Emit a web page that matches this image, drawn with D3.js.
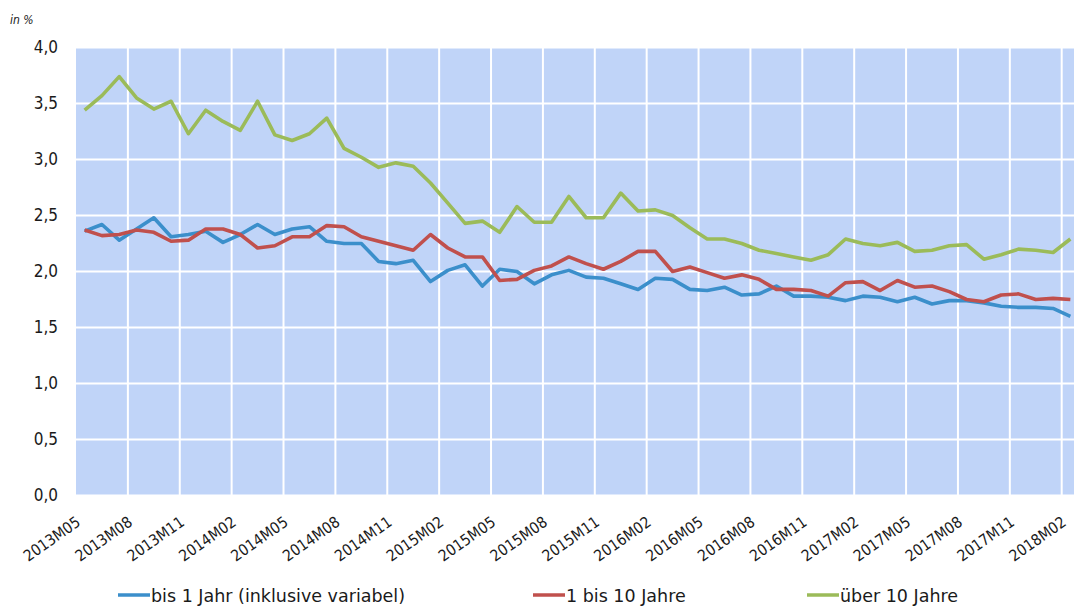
<!DOCTYPE html>
<html><head><meta charset="utf-8">
<script src="https://cdn.jsdelivr.net/npm/d3@7"></script>
<style>
html,body{margin:0;padding:0;background:#fff;overflow:hidden;}
svg{display:block;font-family:"DejaVu Sans",sans-serif;}
</style></head>
<body>
<svg id="c" width="1074" height="606"></svg>
<script>
// categories: monthly 2013M05 .. 2018M02
const startYear = 2013, startMonth = 5, nMonths = 58;
const categories = [];
for (let i = 0; i < nMonths; i++) {
  const m = startMonth - 1 + i;
  const y = startYear + Math.floor(m / 12);
  const mm = (m % 12) + 1;
  categories.push(y + "M" + String(mm).padStart(2, "0"));
}
const seriesNames = ["bis 1 Jahr (inklusive variabel)", "1 bis 10 Jahre", "über 10 Jahre"];
const bis1 = [2.36,2.42,2.28,2.38,2.48,2.31,2.33,2.36,2.26,2.33,
  2.42,2.33,2.38,2.40,2.27,2.25,2.25,2.09,2.07,2.10,
  1.91,2.01,2.06,1.87,2.02,2.00,1.89,1.97,2.01,1.95,
  1.94,1.89,1.84,1.94,1.93,1.84,1.83,1.86,1.79,1.80,
  1.87,1.78,1.78,1.77,1.74,1.78,1.77,1.73,1.77,1.71,
  1.74,1.74,1.72,1.69,1.68,1.68,1.67,1.60];
const bis10 = [2.37,2.32,2.33,2.37,2.35,2.27,2.28,2.38,2.38,2.33,
  2.21,2.23,2.31,2.31,2.41,2.40,2.31,2.27,2.23,2.19,
  2.33,2.21,2.13,2.13,1.92,1.93,2.01,2.05,2.13,2.07,
  2.02,2.09,2.18,2.18,2.00,2.04,1.99,1.94,1.97,1.93,
  1.84,1.84,1.83,1.78,1.90,1.91,1.83,1.92,1.86,1.87,
  1.82,1.75,1.73,1.79,1.80,1.75,1.76,1.75];
const ueber10 = [3.44,3.57,3.74,3.55,3.45,3.52,3.23,3.44,3.34,3.26,
  3.52,3.22,3.17,3.23,3.37,3.10,3.02,2.93,2.97,2.94,
  2.79,2.61,2.43,2.45,2.35,2.58,2.44,2.44,2.67,2.48,
  2.48,2.70,2.54,2.55,2.50,2.39,2.29,2.29,2.25,2.19,
  2.16,2.13,2.10,2.15,2.29,2.25,2.23,2.26,2.18,2.19,
  2.23,2.24,2.11,2.15,2.20,2.19,2.17,2.29];
const yTicks = [0,0.5,1,1.5,2,2.5,3,3.5,4];
const xTickLabels = categories.filter((d,i) => i % 3 === 0);
const unitLabel = "in %";
const colors = ["#3b8fcb", "#c0504d", "#9bbb59"];

const svg = d3.select("#c");
const plot = {left: 76, right: 1079, top: 47.5, bottom: 495.5};

const x = d3.scaleBand().domain(categories).range([plot.left, plot.right]).padding(0);
const y = d3.scaleLinear().domain([0, 4]).range([plot.bottom, plot.top]);

svg.append("rect").attr("x", plot.left).attr("y", plot.top)
  .attr("width", plot.right - plot.left).attr("height", plot.bottom - plot.top)
  .attr("fill", "#c0d4f8");

// horizontal gridlines
svg.append("g").selectAll("line").data(yTicks).join("line")
  .attr("x1", plot.left).attr("x2", plot.right)
  .attr("y1", d => y(d)).attr("y2", d => y(d))
  .attr("stroke", "#fff").attr("stroke-width", 2);
// vertical gridlines at every 3rd category boundary
svg.append("g").selectAll("line").data(categories.filter((d,i) => i % 3 === 0 && i > 0)).join("line")
  .attr("x1", d => x(d)).attr("x2", d => x(d))
  .attr("y1", plot.top).attr("y2", plot.bottom)
  .attr("stroke", "#fff").attr("stroke-width", 2);

// y axis labels
const yAxis = d3.axisLeft(y).tickValues(yTicks).tickSize(0).tickPadding(0)
  .tickFormat(d => d3.format(".1f")(d).replace(".", ","));
const yg = svg.append("g").attr("transform", `translate(${plot.left - 18},0)`).call(yAxis);
yg.select(".domain").remove();
yg.selectAll("text").attr("font-size", 17).attr("fill", "#1a1a1a")
  .attr("font-family", "DejaVu Sans Condensed, DejaVu Sans, sans-serif");

svg.append("text").attr("x", 10).attr("y", 24).attr("font-size", 12)
  .attr("font-style", "italic").attr("fill", "#1a1a1a")
  .attr("font-family", "DejaVu Sans Condensed, DejaVu Sans, sans-serif").text(unitLabel);

// x axis labels
const xAxis = d3.axisBottom(x).tickValues(xTickLabels).tickSize(0).tickPadding(0);
const xg = svg.append("g").attr("transform", `translate(0,${plot.bottom})`).call(xAxis);
xg.select(".domain").remove();
xg.selectAll("text")
  .attr("font-size", 15.5).attr("fill", "#1a1a1a")
  .attr("font-family", "DejaVu Sans Condensed, DejaVu Sans, sans-serif")
  .attr("text-anchor", "end").attr("dy", 0).attr("y", 0)
  .attr("transform", "translate(-3,29) rotate(-35)");

// lines
const allSeries = [bis1, bis10, ueber10];
const line = d3.line().x((d,i) => x(categories[i]) + x.bandwidth() / 2).y(d => y(d));
svg.append("g").selectAll("path").data(allSeries).join("path")
  .attr("d", d => line(d)).attr("fill", "none")
  .attr("stroke", (d,i) => colors[i]).attr("stroke-width", 3.6)
  .attr("stroke-linejoin", "round");

// legend
const legendX = [118, 533, 807];
const lg = svg.append("g").selectAll("g").data(seriesNames).join("g")
  .attr("transform", (d,i) => `translate(${legendX[i]},595)`);
lg.append("line").attr("x1", 0).attr("x2", 32).attr("y1", 0).attr("y2", 0)
  .attr("stroke", (d,i) => colors[i]).attr("stroke-width", 3.5);
lg.append("text").attr("x", 33).attr("y", 6.5).attr("font-size", 17.5).attr("fill", "#1a1a1a")
  .attr("font-family", "DejaVu Sans, sans-serif").text(d => d);
</script>
</body></html>
